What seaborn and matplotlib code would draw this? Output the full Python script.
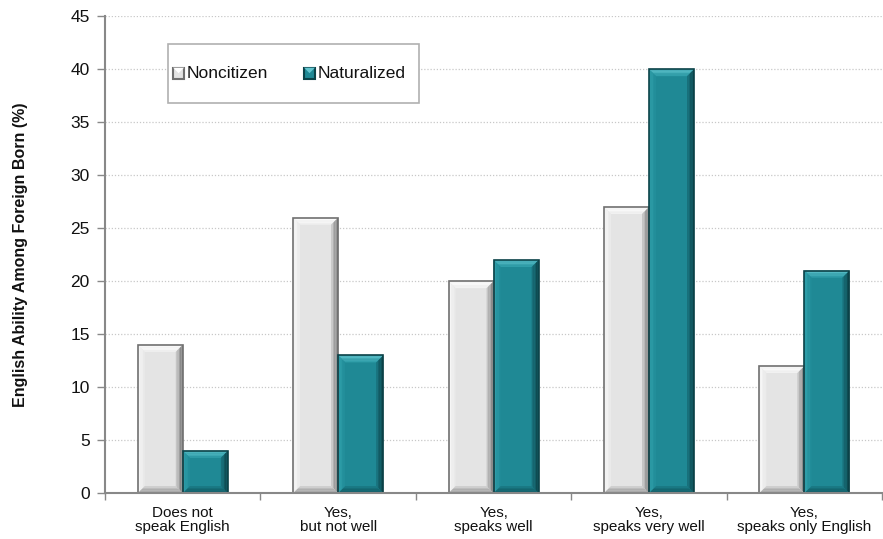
import matplotlib
matplotlib.use("Agg")
import matplotlib.pyplot as plt
from matplotlib.patches import Polygon, Rectangle
from matplotlib.colors import to_rgb
import numpy as np
import seaborn as sns
import pandas as pd

categories = ["Does not\nspeak English", "Yes,\nbut not well", "Yes,\nspeaks well",
              "Yes,\nspeaks very well", "Yes,\nspeaks only English"]
noncitizen = [14, 26, 20, 27, 12]
naturalized = [4, 13, 22, 40, 21]
series = ["Noncitizen", "Naturalized"]
y_ticks = [0, 5, 10, 15, 20, 25, 30, 35, 40, 45]

df = pd.DataFrame({
    "category": categories * 2,
    "share": noncitizen + naturalized,
    "status": [series[0]] * len(categories) + [series[1]] * len(categories),
})

# face colour plus (outer, inner) tones of each bevel side
styles = {
    "Noncitizen": dict(face="#e4e4e4", edge="#707070",
                       top=("#ffffff", "#f1f1f1"), left=("#fbfbfb", "#e9e9e9"),
                       right=("#6c6c6c", "#cfcfcf"), bottom=("#8c8c8c", "#d2d2d2")),
    "Naturalized": dict(face="#1f8995", edge="#0b4248",
                        top=("#62c4ce", "#2b9ba6"), left=("#33a4af", "#208c98"),
                        right=("#093a3f", "#1a7580"), bottom=("#0e5158", "#1a7a85")),
}

sns.set_theme(style="white")
plt.rcParams["font.family"] = ["Liberation Sans", "DejaVu Sans"]

fig = plt.figure(figsize=(8.83, 5.39), dpi=100)
ax = fig.add_axes([0.119, 0.085, 0.88, 0.885])

sns.barplot(data=df, x="category", y="share", hue="status", hue_order=series,
            palette=[styles[s]["face"] for s in series], width=0.58,
            saturation=1, edgecolor="none", linewidth=0, ax=ax, legend=False,
            errorbar=None)

ax.set_xlim(-0.5, len(categories) - 0.5)
ax.set_ylim(0, 45)
ax.set_yticks(y_ticks)
ax.set_yticklabels([str(t) for t in y_ticks], fontsize=12.5, color="#111111")
ax.set_xticks(range(len(categories)))
ax.set_xticklabels(categories, fontsize=11, color="#111111", linespacing=1.0)
ax.set_xticks([i - 0.5 for i in range(len(categories) + 1)], minor=True)
ax.tick_params(axis="x", which="major", length=0, pad=9)
ax.tick_params(axis="x", which="minor", length=5, width=1, color="#888888",
               direction="out", bottom=True)
ax.tick_params(axis="y", length=6, width=1, color="#888888", direction="out",
               left=True, pad=5)
ax.set_xlabel("")
ax.set_ylabel("English Ability Among Foreign Born (%)", fontsize=11.5,
              fontweight="bold", color="#111111")
ax.yaxis.set_label_coords(-0.099, 0.5)

ax.grid(axis="y", color="#c8c8c8", linestyle=(0, (1, 1.5)), linewidth=0.9)
ax.set_axisbelow(True)
for side in ("top", "right"):
    ax.spines[side].set_visible(False)
for side in ("left", "bottom"):
    ax.spines[side].set_color("#888888")
    ax.spines[side].set_linewidth(1.5)
    ax.spines[side].set_zorder(5)

fig.canvas.draw()
bbox = ax.get_window_extent()
px_x = (ax.get_xlim()[1] - ax.get_xlim()[0]) / bbox.width
px_y = (ax.get_ylim()[1] - ax.get_ylim()[0]) / bbox.height


def mix(c1, c2, t):
    a, b = np.array(to_rgb(c1)), np.array(to_rgb(c2))
    return tuple(a + (b - a) * t)


def bevel(ax, x0, y0, w, h, st, b=7, steps=5, z=3):
    """Draw a bevelled frame over a bar as graded trapezoid strips."""
    x1, y1 = x0 + w, y0 + h
    bx, by = b * px_x, min(b * px_y, h / 2)
    for k in range(steps):
        t0, t1 = k / steps, (k + 1) / steps
        ox0, ox1 = x0 + bx * t0, x1 - bx * t0
        oy0, oy1 = y0 + by * t0, y1 - by * t0
        ix0, ix1 = x0 + bx * t1, x1 - bx * t1
        iy0, iy1 = y0 + by * t1, y1 - by * t1
        tc = (k + 0.5) / steps
        kw = dict(linewidth=0, zorder=z, antialiased=True)
        ax.add_patch(Polygon([(ox0, oy1), (ox1, oy1), (ix1, iy1), (ix0, iy1)],
                             facecolor=mix(*st["top"], tc), **kw))
        ax.add_patch(Polygon([(ox0, oy0), (ox0, oy1), (ix0, iy1), (ix0, iy0)],
                             facecolor=mix(*st["left"], tc), **kw))
        ax.add_patch(Polygon([(ox1, oy0), (ox1, oy1), (ix1, iy1), (ix1, iy0)],
                             facecolor=mix(*st["right"], tc), **kw))
        ax.add_patch(Polygon([(ox0, oy0), (ox1, oy0), (ix1, iy0), (ix0, iy0)],
                             facecolor=mix(*st["bottom"], tc), **kw))
    ax.add_patch(Rectangle((x0, y0), w, h, facecolor="none", edgecolor=st["edge"],
                           linewidth=1.2, zorder=z + 0.5))


bars = [p for p in ax.patches if isinstance(p, Rectangle)]
n = len(categories)
for i, p in enumerate(bars[: 2 * n]):
    st = styles[series[i // n]]
    bevel(ax, p.get_x(), p.get_y(), p.get_width(), p.get_height(), st)

# legend frame with small bevelled swatches
ax.add_patch(Rectangle((0.081, 0.818), 0.323, 0.123, transform=ax.transAxes,
                       facecolor="white", edgecolor="#b0b0b0", linewidth=1.2,
                       zorder=6))
leg_items = [(0.0875, series[0]), (0.256, series[1])]
y_mid = 0.8805
for x_ax, name in leg_items:
    st = styles[name]
    sw, sh = 11 / bbox.width, 11 / bbox.height
    y_ax = y_mid - sh / 2
    ax.add_patch(Rectangle((x_ax, y_ax), sw, sh, transform=ax.transAxes,
                           facecolor=st["face"], edgecolor=st["edge"],
                           linewidth=1.5, zorder=7))
    ax.add_patch(Polygon([(x_ax, y_ax + sh), (x_ax + sw, y_ax + sh),
                          (x_ax + sw / 2, y_ax + sh / 2)], transform=ax.transAxes,
                         facecolor=st["top"][0], linewidth=0, zorder=7))
    ax.text(x_ax + sw + 0.003, y_mid, name, transform=ax.transAxes,
            ha="left", va="center", fontsize=12.5, color="#111111", zorder=8)

fig.savefig("out.png", dpi=100)
